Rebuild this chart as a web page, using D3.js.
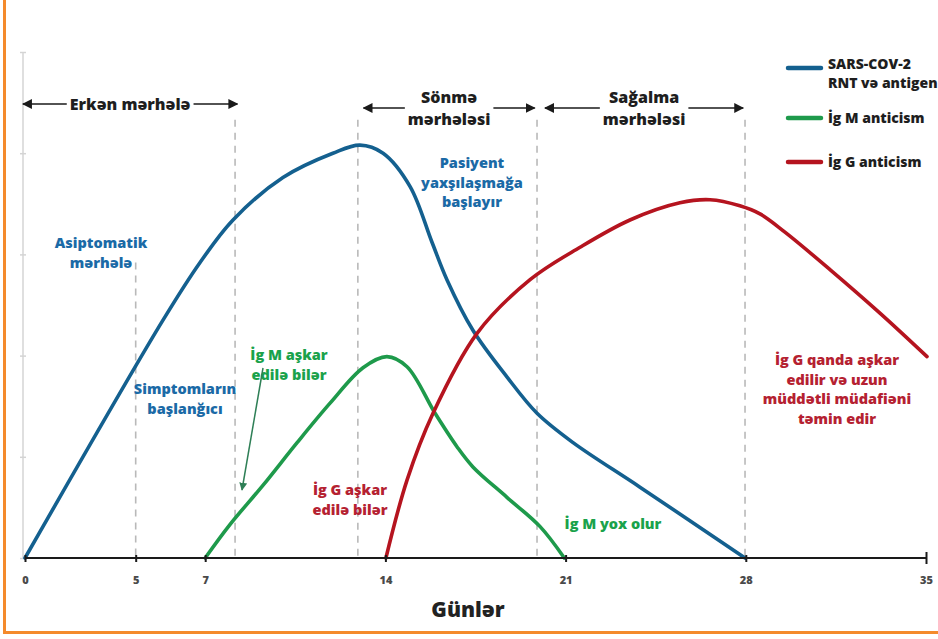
<!DOCTYPE html>
<html>
<head>
<meta charset="utf-8">
<script src="https://cdn.jsdelivr.net/npm/d3@7"></script>
<style>
  body { margin: 0; background: #fff; }
  text { font-family: "Open Sans", "DejaVu Sans", sans-serif; font-weight: 800; }
</style>
</head>
<body>
<svg id="chart"></svg>
<script>
var svgWidth = 938,
    svgHeight = 639;

// days on the x axis and relative level on the y axis
var blueDays = [0, 5.36, 6.8, 8.08, 10.02, 11.96, 13.01, 13.91, 14.96, 15.81, 16.39, 17.4, 18.72, 19.89, 21.29, 23.89, 27.97];
var blueVals = [0, 2.35, 2.92, 3.34, 3.76, 4.0, 4.08, 4.0, 3.67, 3.12, 2.75, 2.25, 1.79, 1.43, 1.14, 0.7, 0];

var greenDays = [7, 7.96, 9.25, 10.57, 11.85, 13.13, 14.06, 14.84, 15.93, 16.78, 17.4, 18.72, 20.01, 20.95];
var greenVals = [0, 0.33, 0.72, 1.14, 1.53, 1.88, 1.99, 1.89, 1.43, 1.1, 0.9, 0.6, 0.31, 0];

var redDays = [14.02, 14.84, 15.85, 17.56, 19.62, 21.56, 23.5, 25.44, 26.61, 27.77, 28.55, 29.52, 31.27, 33.21, 35.04];
var redVals = [0, 0.77, 1.43, 2.22, 2.75, 3.07, 3.34, 3.51, 3.54, 3.48, 3.4, 3.22, 2.85, 2.42, 1.99];

var tickDays = [0, 4.3, 7, 14, 21, 28, 35];
var tickLabels = ['0', '5', '7', '14', '21', '28', '35'];
var yTicks = [0, 1, 2, 3, 4, 5];

// vertical dashed markers: day and top level
var markerDays = [4.3, 8.16, 12.93, 19.89, 27.97];
var markerTops = [2.92, 4.33, 4.33, 4.33, 4.33];

// phases across the top
var phaseNames = [['Erkən mərhələ'], ['Sönmə', 'mərhələsi'], ['Sağalma', 'mərhələsi']];
var phaseStart = [-0.08, 13.15, 20.2];
var phaseEnd = [8.25, 19.8, 27.9];

var legendNames = [['SARS-COV-2', 'RNT və antigen'], ['İg M anticism'], ['İg G anticism']];

var blue = '#14608f', green = '#1e9a4b', red = '#b5141f';
var blueText = '#1b6aa6', greenText = '#1aa24b', redText = '#b52131';

var x = d3.scaleLinear().domain([0, 35]).range([25, 926]);
var y = d3.scaleLinear().domain([0, 5]).range([558, 52]);

var svg = d3.select('#chart')
    .attr('width', svgWidth)
    .attr('height', svgHeight);

svg.append('defs').append('marker')
    .attr('id', 'arrowHead')
    .attr('viewBox', '0 0 10 10')
    .attr('refX', 9).attr('refY', 5)
    .attr('markerWidth', 10).attr('markerHeight', 10)
    .attr('markerUnits', 'userSpaceOnUse')
    .attr('orient', 'auto-start-reverse')
    .append('path')
    .attr('d', 'M0,0 L10,5 L0,10 Z')
    .attr('fill', '#1a1a1a');

svg.select('defs').append('marker')
    .attr('id', 'greenHead')
    .attr('viewBox', '0 0 10 10')
    .attr('refX', 9).attr('refY', 5)
    .attr('markerWidth', 8).attr('markerHeight', 8)
    .attr('markerUnits', 'userSpaceOnUse')
    .attr('orient', 'auto')
    .append('path')
    .attr('d', 'M0,0 L10,5 L0,10 Z')
    .attr('fill', '#2e7f56');

// orange frame (left + bottom)
svg.append('line').attr('x1', 4.5).attr('x2', 4.5).attr('y1', 0).attr('y2', 634)
    .attr('stroke', '#f48a2c').attr('stroke-width', 3);
svg.append('line').attr('x1', 3).attr('x2', 938).attr('y1', 632.5).attr('y2', 632.5)
    .attr('stroke', '#f48a2c').attr('stroke-width', 3);

// faint left axis
var yAxis = svg.append('g')
    .attr('transform', 'translate(23,0)')
    .call(d3.axisLeft(y).tickValues(yTicks).tickSize(3).tickFormat(''));
yAxis.selectAll('path, line').attr('stroke', '#d4d4d4').attr('stroke-width', 1.5);
yAxis.select('.domain').attr('d', 'M0,' + y(5) + 'V' + y(0));
yAxis.selectAll('.tick line').attr('x1', -3).attr('x2', 3);

// dashed markers
svg.selectAll('.marker')
    .data(markerDays)
    .enter().append('line')
    .attr('class', 'marker')
    .attr('x1', function(d) { return x(d); })
    .attr('x2', function(d) { return x(d); })
    .attr('y1', function(d, i) { return y(markerTops[i]); })
    .attr('y2', y(0))
    .attr('stroke', '#b9b9b9')
    .attr('stroke-width', 1.6)
    .attr('stroke-dasharray', '7,6');

// curves
var line = d3.line()
    .x(function(d) { return x(d[0]); })
    .y(function(d) { return y(d[1]); })
    .curve(d3.curveCatmullRom.alpha(0.5));

function drawCurve(days, vals, color) {
    var pts = days.map(function(d, i) { return [d, vals[i]]; });
    svg.append('path')
        .attr('d', line(pts))
        .attr('fill', 'none')
        .attr('stroke', color)
        .attr('stroke-width', 3.6)
        .attr('stroke-linecap', 'round');
}
drawCurve(blueDays, blueVals, blue);
drawCurve(greenDays, greenVals, green);
drawCurve(redDays, redVals, red);

// x axis
var xAxis = svg.append('g')
    .attr('transform', 'translate(0,' + y(0) + ')')
    .call(d3.axisBottom(x).tickValues(tickDays).tickSize(4).tickPadding(14)
        .tickFormat(function(d, i) { return tickLabels[i]; }));
xAxis.select('.domain').attr('stroke', '#1a1a1a').attr('stroke-width', 2.2)
    .attr('d', 'M' + x(0) + ',0H' + x(35));
xAxis.selectAll('.tick line').attr('stroke', '#1a1a1a').attr('stroke-width', 2).attr('y1', -3);
xAxis.select('.tick:last-of-type line').attr('y1', -6).attr('y2', 6);
xAxis.selectAll('.tick text')
    .attr('fill', '#4a4a4a')
    .style('font-size', '11px')
    .style('font-family', '"Open Sans", sans-serif')
    .style('font-weight', 800);

svg.append('text')
    .attr('x', 468).attr('y', 617)
    .attr('text-anchor', 'middle')
    .attr('fill', '#222')
    .style('font-size', '21px')
    .text('Günlər');

// phase arrows and labels
phaseNames.forEach(function(lines, i) {
    var x0 = x(phaseStart[i]), x1 = x(phaseEnd[i]);
    var cx = (x0 + x1) / 2;
    var ay = lines.length == 1 ? 104 : 108;
    var g = svg.append('g');
    var txt = g.append('text')
        .attr('text-anchor', 'middle')
        .attr('fill', '#1e1e1e')
        .style('font-size', '16px');
    lines.forEach(function(s, j) {
        txt.append('tspan')
            .attr('x', cx)
            .attr('y', lines.length == 1 ? ay + 6 : 103 + j * 22)
            .text(s);
    });
    var half = txt.node().getBBox().width / 2 + 3;
    g.append('line')
        .attr('x1', cx - half).attr('x2', x0).attr('y1', ay).attr('y2', ay)
        .attr('stroke', '#1a1a1a').attr('stroke-width', 1.6)
        .attr('marker-end', 'url(#arrowHead)');
    g.append('line')
        .attr('x1', cx + half).attr('x2', x1).attr('y1', ay).attr('y2', ay)
        .attr('stroke', '#1a1a1a').attr('stroke-width', 1.6)
        .attr('marker-end', 'url(#arrowHead)');
});

// annotations
function note(lines, cx, cy, color) {
    var t = svg.append('text')
        .attr('text-anchor', 'middle')
        .attr('fill', color)
        .style('font-size', '14.5px');
    lines.forEach(function(s, j) {
        t.append('tspan').attr('x', cx).attr('y', cy + j * 19.5).text(s);
    });
}
note(['Asiptomatik', 'mərhələ'], 101, 248, blueText);
note(['Simptomların', 'başlanğıcı'], 185, 394, blueText);
note(['Pasiyent', 'yaxşılaşmağa', 'başlayır'], 472, 168, blueText);
note(['İg M aşkar', 'edilə bilər'], 289, 360, greenText);
note(['İg G aşkar', 'edilə bilər'], 350, 495, redText);
note(['İg M yox olur'], 613, 529, greenText);
note(['İg G qanda aşkar', 'edilir və uzun', 'müddətli müdafiəni', 'təmin edir'], 837, 365, redText);

svg.append('line')
    .attr('x1', 263).attr('y1', 368).attr('x2', 242).attr('y2', 490)
    .attr('stroke', '#2e7f56').attr('stroke-width', 1.5)
    .attr('marker-end', 'url(#greenHead)');

// legend
var legendY = [68, 118, 162];
var legendColors = [blue, green, red];
legendNames.forEach(function(lines, i) {
    svg.append('line')
        .attr('x1', 788).attr('x2', 821)
        .attr('y1', legendY[i]).attr('y2', legendY[i])
        .attr('stroke', legendColors[i]).attr('stroke-width', 4.5)
        .attr('stroke-linecap', 'round');
    var t = svg.append('text')
        .attr('fill', '#1e1e1e')
        .style('font-size', '14px');
    lines.forEach(function(s, j) {
        t.append('tspan').attr('x', 828)
            .attr('y', (lines.length == 1 ? legendY[i] + 5 : legendY[i] + 1) + j * 19)
            .text(s);
    });
});
</script>
</body>
</html>
